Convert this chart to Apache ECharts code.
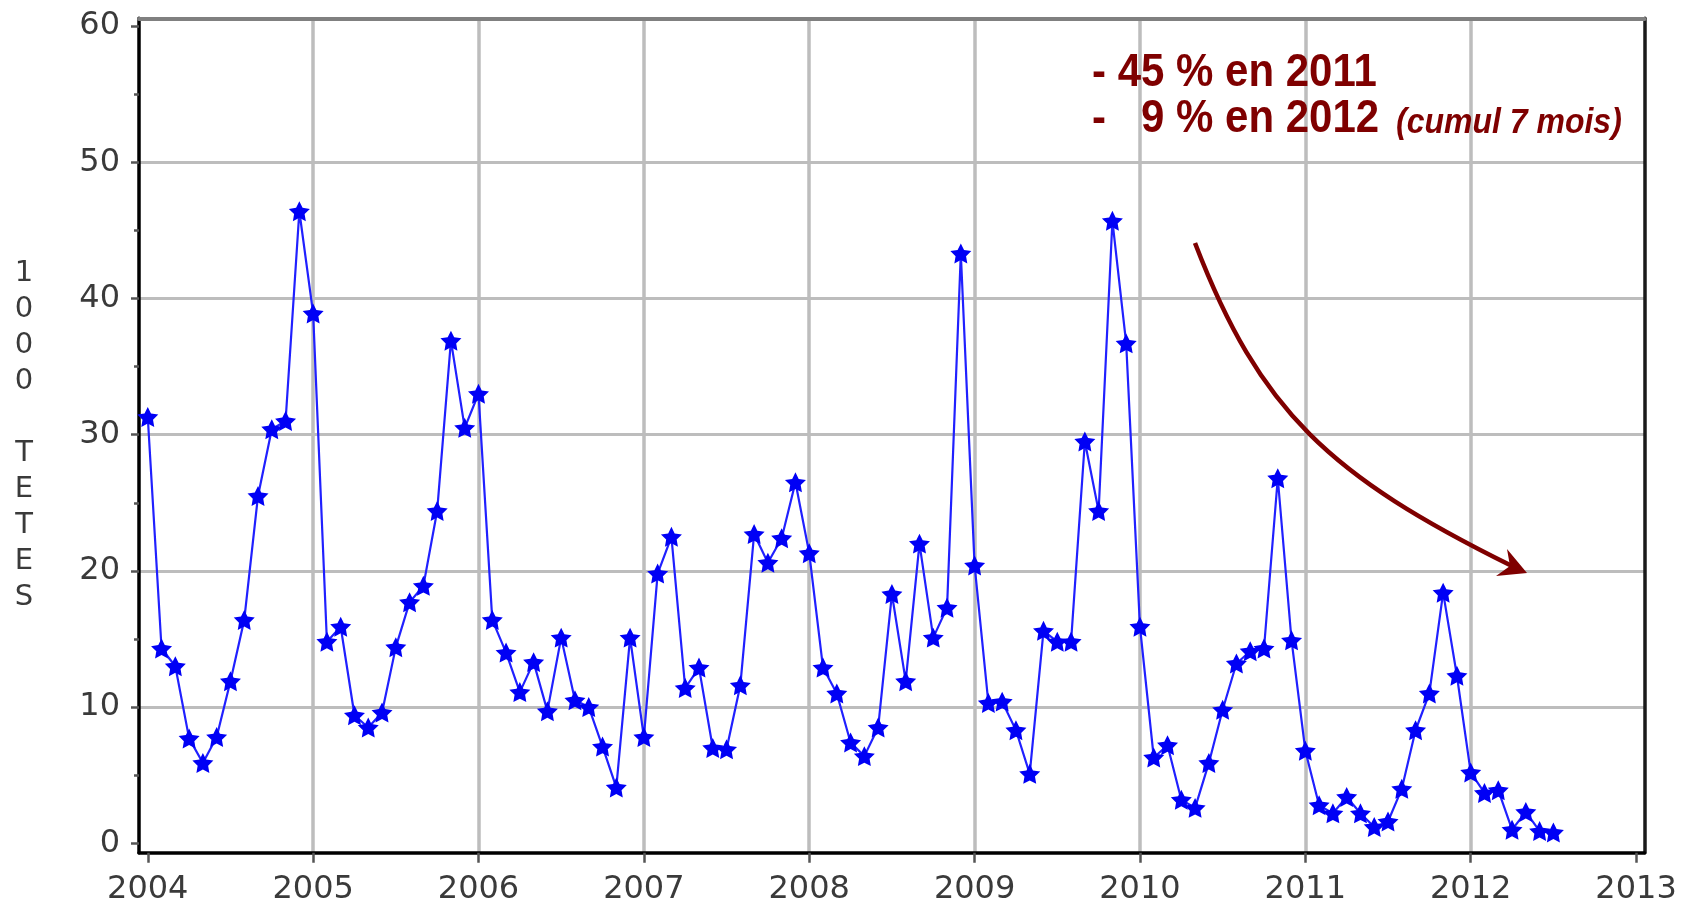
<!DOCTYPE html>
<html>
<head>
<meta charset="utf-8">
<script src="https://cdn.jsdelivr.net/npm/echarts@6/dist/echarts.min.js"></script>
<style>
  html, body { margin: 0; padding: 0; background: #fff; }
  #chart { width: 1684px; height: 902px; }
</style>
</head>
<body>
<div id="chart"></div>
<script>
// monthly values, thousands of heads (1000 TETES)
var startYear = 2004;
var v2004 = [31.3, 14.3, 13.0, 7.7, 5.9, 7.8, 11.9, 16.4, 25.5, 30.4, 31.0, 46.4];
var v2005 = [38.9, 14.8, 15.9, 9.4, 8.5, 9.6, 14.4, 17.7, 18.9, 24.4, 36.9, 30.5];
var v2006 = [33.0, 16.4, 14.0, 11.1, 13.3, 9.7, 15.1, 10.5, 10.0, 7.1, 4.1, 15.1];
var v2007 = [7.8, 19.8, 22.5, 11.4, 12.9, 7.0, 6.9, 11.6, 22.7, 20.6, 22.4, 26.5];
var v2008 = [21.3, 12.9, 11.0, 7.4, 6.4, 8.5, 18.3, 11.9, 22.0, 15.1, 17.3, 43.3];
var v2009 = [20.4, 10.3, 10.4, 8.3, 5.1, 15.6, 14.8, 14.8, 29.5, 24.4, 45.7, 36.7];
var v2010 = [15.9, 6.3, 7.2, 3.2, 2.6, 5.9, 9.8, 13.2, 14.1, 14.3, 26.8, 14.9];
var v2011 = [6.8, 2.8, 2.2, 3.4, 2.2, 1.2, 1.6, 4.0, 8.3, 11.0, 18.4, 12.3];
var v2012 = [5.2, 3.7, 3.9, 1.0, 2.3, 0.9, 0.8];

var yearTicks = [2004, 2005, 2006, 2007, 2008, 2009, 2010, 2011, 2012, 2013];
var valueTicks = [0, 10, 20, 30, 40, 50, 60];
var minorTicks = [5, 15, 25, 35, 45, 55];
var yTitle = ['1', '0', '0', '0', '', 'T', 'E', 'T', 'E', 'S'];
var note1 = '- 45 % en 2011';
var note2 = '-   9 % en 2012';
var note2b = '(cumul 7 mois)';

var values = [].concat(v2004, v2005, v2006, v2007, v2008, v2009, v2010, v2011, v2012);
var points = values.map(function (v, i) { return [startYear + i / 12, v]; });

var star = 'path://M50,0 L64.7,29.8 L97.6,34.5 L73.8,57.7 L79.4,90.5 L50,75 L20.6,90.5 L26.2,57.7 L2.4,34.5 L35.3,29.8 Z';
var clear = 'rgba(0,0,0,0)';
var grey = '#bdbdbd';
var red = '#7f0000';
var noteFont = 'bold 42px "Liberation Sans", Arial';

var chart = echarts.init(document.getElementById('chart'));

chart.setOption({
  backgroundColor: '#fff',
  animation: false,
  grid: { left: 139, right: 39.5, top: 18.3, bottom: 49.3, containLabel: false, outerBoundsMode: 'none' },
  xAxis: [{
    type: 'value',
    min: 2003.947, max: 2013.051,
    axisLine: { show: true, onZero: false, lineStyle: { color: '#000', width: 3.5 } },
    axisTick: { show: true, customValues: yearTicks, length: 10, lineStyle: { color: '#555', width: 2.5 } },
    axisLabel: { customValues: yearTicks, margin: 21, color: '#3a3a3a', fontSize: 32, fontFamily: 'DejaVu Sans',
      formatter: function (v) { return String(Math.round(v)); } },
    splitLine: { show: true, lineStyle: { color: [clear, grey, grey, grey, grey, grey, grey, grey, grey, clear], width: 3.5 } }
  }, {
    type: 'value', position: 'top',
    min: 2003.947, max: 2013.051,
    axisLine: { show: true, onZero: false, lineStyle: { color: '#808080', width: 4 } },
    axisTick: { show: false }, axisLabel: { show: false }, splitLine: { show: false }
  }],
  yAxis: [{
    type: 'value',
    min: -0.69, max: 60.565,
    axisLine: { show: true, onZero: false, lineStyle: { color: '#000', width: 3.5 } },
    axisTick: { show: true, customValues: valueTicks, length: 8, lineStyle: { color: '#555', width: 2.5 } },
    axisLabel: { customValues: valueTicks, margin: 19, color: '#3a3a3a', fontSize: 32, fontFamily: 'DejaVu Sans' },
    splitLine: { show: true, lineStyle: { color: [clear, grey, grey, grey, grey, grey, clear], width: 3 } },
    name: yTitle.join('\n'),
    nameLocation: 'middle',
    nameRotate: 0,
    nameGap: 115,
    nameTextStyle: { color: '#3a3a3a', fontSize: 29, lineHeight: 36, fontFamily: 'DejaVu Sans', align: 'center' }
  }, {
    type: 'value', position: 'left',
    min: -0.69, max: 60.565,
    axisLine: { show: false, onZero: false },
    axisTick: { show: true, customValues: minorTicks, length: 5, lineStyle: { color: '#555', width: 2.5 } },
    axisLabel: { show: false }, splitLine: { show: false }
  }, {
    type: 'value', position: 'right',
    min: -0.69, max: 60.565,
    axisLine: { show: true, onZero: false, lineStyle: { color: '#1a1a1a', width: 3.5 } },
    axisTick: { show: false }, axisLabel: { show: false }, splitLine: { show: false }
  }],
  series: [{
    type: 'line',
    xAxisIndex: 0, yAxisIndex: 0,
    data: points,
    symbol: star,
    symbolSize: 21,
    symbolKeepAspect: true,
    lineStyle: { color: '#2020ff', width: 2.2 },
    itemStyle: { color: '#0000f5' },
    z: 5
  }],
  graphic: [
    { type: 'text', z: 10, x: 1092, y: 73, scaleY: 1.1,
      style: { text: note1, x: 0, y: 0, font: noteFont, fill: red, textAlign: 'left', textVerticalAlign: 'middle', align: 'left', verticalAlign: 'middle' } },
    { type: 'text', z: 10, x: 1092, y: 119, scaleY: 1.1,
      style: { text: note2, x: 0, y: 0, font: noteFont, fill: red, textAlign: 'left', textVerticalAlign: 'middle', align: 'left', verticalAlign: 'middle' } },
    { type: 'text', z: 10, x: 1396, y: 123, scaleY: 1.1,
      style: { text: note2b, x: 0, y: 0, font: 'italic bold 32px "Liberation Sans", Arial', fill: red, textAlign: 'left', textVerticalAlign: 'middle', align: 'left', verticalAlign: 'middle' } },
    { type: 'bezierCurve', z: 10,
      shape: { x1: 1195, y1: 243, cpx1: 1260, cpy1: 412, cpx2: 1330, cpy2: 476, x2: 1512, y2: 566 },
      style: { stroke: red, lineWidth: 4.5, fill: null } },
    { type: 'polygon', z: 10,
      shape: { points: [[1527, 573], [1507, 549], [1510, 566], [1496, 576]] },
      style: { fill: red } }
  ]
});
</script>
</body>
</html>
